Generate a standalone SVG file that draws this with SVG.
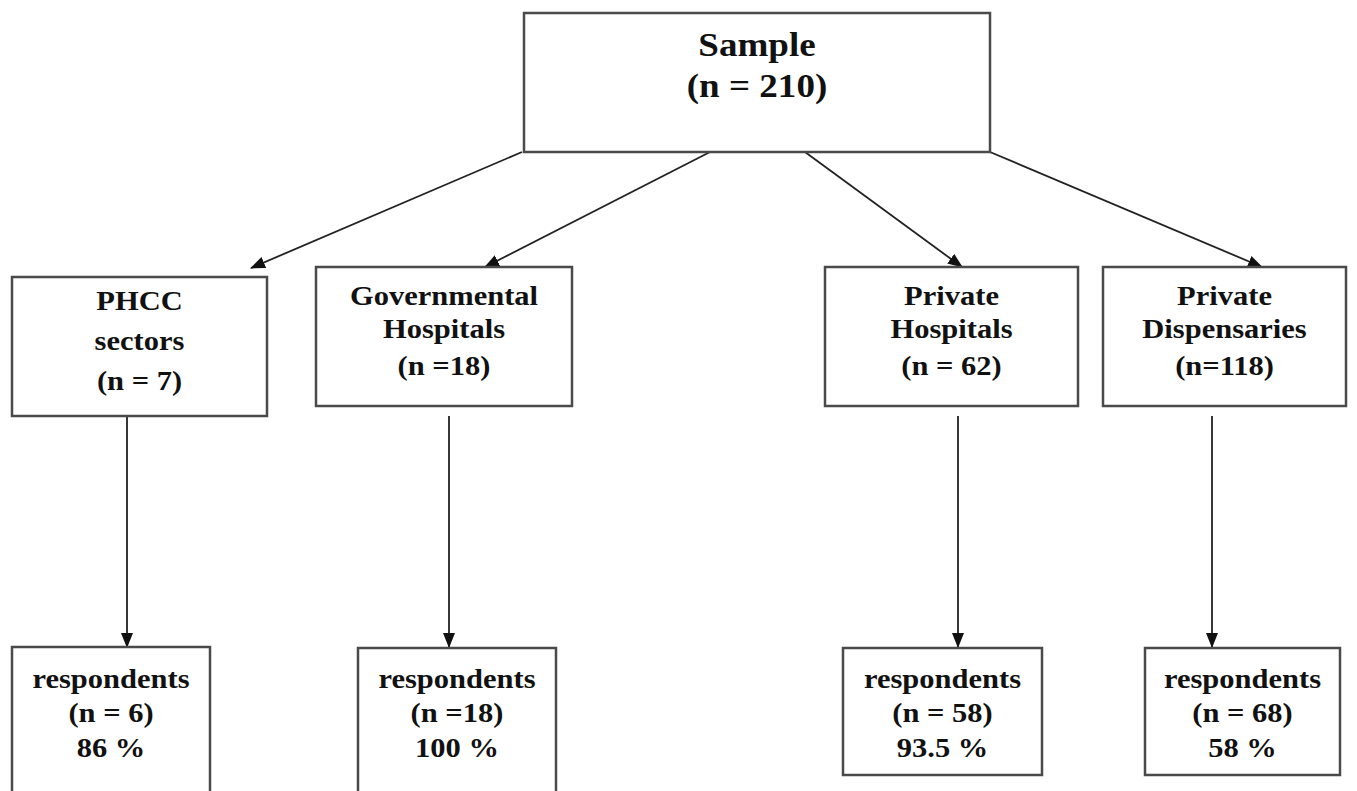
<svg xmlns="http://www.w3.org/2000/svg" width="1357" height="791" viewBox="0 0 1357 791">
<defs>
<style>
.box{fill:#fff;stroke:#4a4a4a;stroke-width:2.5}
.t{font-family:"Liberation Serif","Times New Roman",serif;font-weight:bold;font-size:28px;fill:#111;text-anchor:middle}
.big{font-size:34px}
.c{stroke:#222;stroke-width:1.8;fill:none;marker-end:url(#ah)}
</style>
<marker id="ah" markerUnits="userSpaceOnUse" markerWidth="15" markerHeight="12" refX="14" refY="6" orient="auto" viewBox="0 0 15 12">
<path d="M0,0 L15,6 L0,12 z" fill="#111"/>
</marker>
</defs>
<rect width="1357" height="791" fill="#fff"/>
<g id="connectors">
<line class="c" x1="522" y1="152" x2="251" y2="268"/>
<line class="c" x1="710" y1="152" x2="485" y2="267"/>
<line class="c" x1="805" y1="152" x2="962" y2="267"/>
<line class="c" x1="990" y1="152" x2="1262" y2="267"/>
<line class="c" x1="127" y1="416" x2="127" y2="647"/>
<line class="c" x1="449" y1="416" x2="449" y2="647"/>
<line class="c" x1="958" y1="416" x2="958" y2="647"/>
<line class="c" x1="1212" y1="416" x2="1212" y2="647"/>
</g>
<g id="sample">
<rect class="box" x="524" y="13" width="466" height="139"/>
<g transform="translate(757 0) scale(1.09 1)">
<text class="t big" x="0" y="56">Sample</text>
<text class="t big" x="0" y="97">(n = 210)</text>
</g>
</g>
<g id="phcc">
<rect class="box" x="12" y="277" width="255" height="139"/>
<g transform="translate(139.5 0) scale(1.09 1)">
<text class="t" x="0" y="310">PHCC</text>
<text class="t" x="0" y="350">sectors</text>
<text class="t" x="0" y="390">(n = 7)</text>
</g>
</g>
<g id="gov">
<rect class="box" x="316" y="267" width="256" height="139"/>
<g transform="translate(444 0) scale(1.09 1)">
<text class="t" x="0" y="305">Governmental</text>
<text class="t" x="0" y="338">Hospitals</text>
<text class="t" x="0" y="375">(n =18)</text>
</g>
</g>
<g id="privhosp">
<rect class="box" x="825" y="267" width="253" height="139"/>
<g transform="translate(951.5 0) scale(1.09 1)">
<text class="t" x="0" y="305">Private</text>
<text class="t" x="0" y="338">Hospitals</text>
<text class="t" x="0" y="375">(n = 62)</text>
</g>
</g>
<g id="privdisp">
<rect class="box" x="1103" y="267" width="243" height="139"/>
<g transform="translate(1224.5 0) scale(1.09 1)">
<text class="t" x="0" y="305">Private</text>
<text class="t" x="0" y="338">Dispensaries</text>
<text class="t" x="0" y="375">(n=118)</text>
</g>
</g>
<g id="resp-phcc">
<rect class="box" x="12" y="647" width="198" height="170"/>
<g transform="translate(111 0) scale(1.09 1)">
<text class="t" x="0" y="688">respondents</text>
<text class="t" x="0" y="722">(n = 6)</text>
<text class="t" x="0" y="757">86 %</text>
</g>
</g>
<g id="resp-gov">
<rect class="box" x="358" y="648" width="198" height="170"/>
<g transform="translate(457 0) scale(1.09 1)">
<text class="t" x="0" y="688">respondents</text>
<text class="t" x="0" y="722">(n =18)</text>
<text class="t" x="0" y="757">100 %</text>
</g>
</g>
<g id="resp-privhosp">
<rect class="box" x="843" y="648" width="199" height="127"/>
<g transform="translate(942.5 0) scale(1.09 1)">
<text class="t" x="0" y="688">respondents</text>
<text class="t" x="0" y="722">(n = 58)</text>
<text class="t" x="0" y="757">93.5 %</text>
</g>
</g>
<g id="resp-privdisp">
<rect class="box" x="1145" y="648" width="195" height="127"/>
<g transform="translate(1242.5 0) scale(1.09 1)">
<text class="t" x="0" y="688">respondents</text>
<text class="t" x="0" y="722">(n = 68)</text>
<text class="t" x="0" y="757">58 %</text>
</g>
</g>
</svg>
